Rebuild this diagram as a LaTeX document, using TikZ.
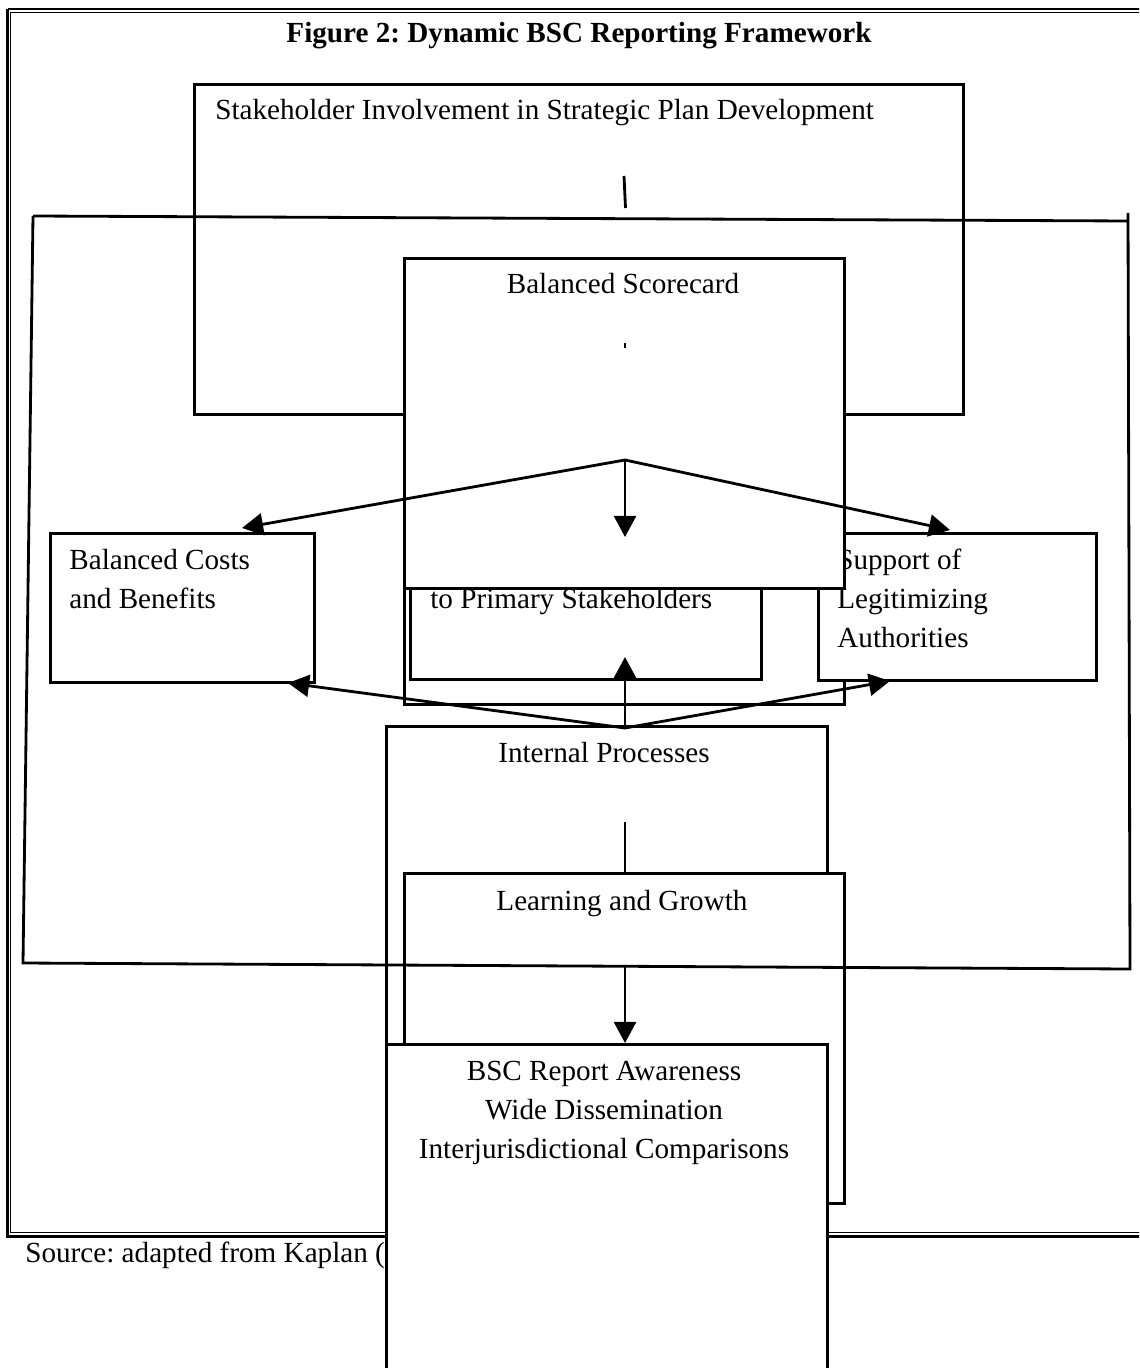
\documentclass[tikz,border=0pt]{standalone}
\usepackage{fontspec}
\setmainfont{Liberation Serif}
\usetikzlibrary{arrows.meta}
\begin{document}
\frenchspacing
\begin{tikzpicture}[x=0.02cm,y=-0.02cm,
  box/.style={draw, line width=1.7pt, fill=white, inner sep=0pt, anchor=north west},
  txt/.style={font=\fontsize{16.6}{22.2}\selectfont\frenchspacing, inner sep=0pt},
  ttl/.style={font=\fontsize{16.6}{22.2}\selectfont\bfseries\frenchspacing, inner sep=0pt},
  link/.style={line width=1.6pt},
  arr/.style={line width=1.6pt, -{Triangle[length=12pt,width=12.5pt]}}]
\clip (0,0) rectangle (1139,1368);
\useasboundingbox (0,0) rectangle (1139,1368);
% outer double frame
\draw[line width=1.6pt] (7.5,9) -- (1160,9) (7.5,9) -- (7.5,1236.5) -- (1160,1236.5);
\draw[line width=0.8pt] (10.5,12.5) -- (1160,12.5) (10.5,12.5) -- (10.5,1232.5) -- (1160,1232.5);
% title and source
\node[ttl, anchor=base] (title) at (579,43) {Figure 2: Dynamic BSC Reporting Framework};
\node[txt, anchor=base west] (source) at (25,1262) {Source: adapted from Kaplan (};
% stakeholder involvement
\node[box, minimum width=15.38cm, minimum height=6.6cm] (stake) at (193,83) {};
\node[txt, anchor=base west] (staketxt) at (215,120) {Stakeholder Involvement in Strategic Plan Development};
\coordinate (tickA) at (624,176);
\coordinate (tickB) at (625.5,208);
\draw[link] (tickA) -- (tickB);
% balanced costs
\node[box, minimum width=5.28cm, minimum height=2.98cm] (costs) at (49,532) {};
\node[txt, anchor=base west] (costs1) at (69,569) {Balanced Costs};
\node[txt, anchor=base west] (costs2) at (69,608) {and Benefits};
% primary stakeholders
\node[box, minimum width=8.8cm, minimum height=2.86cm] (primout) at (403,560) {};
\node[box, minimum width=7.02cm, minimum height=2.16cm] (primin) at (409,570) {};
\node[txt, anchor=base west] (primtxt) at (430,608) {to Primary Stakeholders};
% support
\node[box, minimum width=5.56cm, minimum height=2.94cm] (support) at (817,532) {};
\node[txt, anchor=base west] (sup1) at (837,569) {Support of};
\node[txt, anchor=base west] (sup2) at (837,608) {Legitimizing};
\node[txt, anchor=base west] (sup3) at (837,647) {Authorities};
% balanced scorecard
\node[box, minimum width=8.8cm, minimum height=6.6cm] (bsc) at (403,257) {};
\node[txt, anchor=base] (bsctxt) at (623,294) {Balanced Scorecard};
\draw[line width=1.6pt] (625,343) -- (625,348);
% internal processes
\node[box, minimum width=8.82cm, minimum height=7.5cm] (internal) at (385,725) {};
\node[txt, anchor=base] (inttxt) at (604,762) {Internal Processes};
% learning and growth
\node[box, minimum width=8.8cm, minimum height=6.6cm] (learning) at (403,872) {};
\node[txt, anchor=base] (learntxt) at (622,910) {Learning and Growth};
% feedback loop
\draw[line width=1.6pt] (33,216) -- (1128,221) (1128,213) -- (1130,969) -- (23,963) -- (33,216);
% connectors
\coordinate (bschub) at (625,460);
\coordinate (inthub) at (625,728);
\coordinate (costsTop) at (242,528);
\coordinate (costsBot) at (288,683);
\coordinate (primTop) at (625,537);
\coordinate (primBot) at (625,657);
\coordinate (supTop) at (950,530);
\coordinate (supBot) at (890,681);
\coordinate (intTick) at (625,822);
\coordinate (learnOut) at (625,967);
\draw[arr] (bschub) -- (costsTop);
\draw[arr] (bschub) -- (primTop);
\draw[arr] (bschub) -- (supTop);
\draw[arr] (inthub) -- (costsBot);
\draw[arr] (inthub) -- (primBot);
\draw[arr] (inthub) -- (supBot);
\draw[link] (intTick) -- (learning.north -| intTick);
% BSC report
\node[box, minimum width=8.82cm, minimum height=7.4cm] (report) at (385,1043) {};
\draw[arr] (learnOut) -- (report.north -| learnOut);
\node[txt, anchor=base] (rep1) at (604,1080) {BSC Report Awareness};
\node[txt, anchor=base] (rep2) at (604,1119) {Wide Dissemination};
\node[txt, anchor=base] (rep3) at (604,1158) {Interjurisdictional Comparisons};
\end{tikzpicture}
\end{document}
